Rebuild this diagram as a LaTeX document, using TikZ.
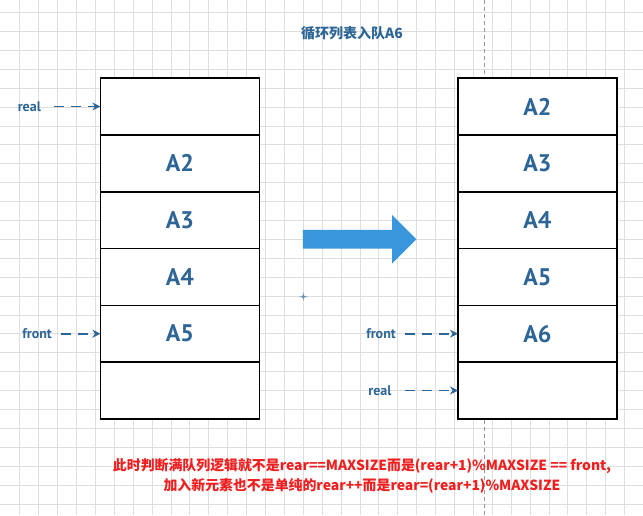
\documentclass[tikz,border=0pt]{standalone}
\usepackage{fontspec}
\setmainfont{PT Sans}
\newfontfamily\cjk{Noto Sans CJK SC}
\usepackage{tikz}
\usetikzlibrary{arrows.meta,positioning,shapes.arrows}
\definecolor{qblue}{RGB}{44,101,150}
\definecolor{shiftblue}{RGB}{55,150,220}
\definecolor{noteRed}{RGB}{240,30,30}
\tikzset{
  >=Stealth,
  every node/.append style={font=\small},
}
\tikzset{
  gridline/.style={draw=black!13, line width=0.8pt},
  guide/.style={draw=black!40, line width=0.7pt, dash pattern=on 4pt off 3pt}
}

\begin{document}
\begin{tikzpicture}[
  x=1pt, y=-1pt,
  cell/.style    ={draw, line width=1.6pt, fill=white, minimum width=159pt,
                   minimum height=56.8pt, inner sep=0pt, outer sep=0pt,
                   text=qblue, font=\bfseries\fontsize{24}{28}\selectfont},
  ptrlbl/.style  ={text=qblue, font=\bfseries\fontsize{14}{17}\selectfont},
  ptr/.style     ={draw=qblue, line width=1.8pt, dash pattern=on 10pt off 7pt,
                   -{Stealth[length=8pt,width=8pt]}},
  bigarrow/.style={single arrow, fill=shiftblue, draw=none, minimum height=113.4pt,
                   inner xsep=0pt, inner ysep=9.15pt, single arrow head extend=15pt,
                   single arrow head indent=0pt},
  heading/.style ={text=qblue, font=\cjk\bfseries\fontsize{14}{17}\selectfont},
  note/.style    ={text=noteRed, align=center,
                   font=\cjk\bfseries\fontsize{13.9}{20}\selectfont}
]

% canvas with editor grid
\useasboundingbox (0,0) rectangle (643,515);
\fill[white] (0,0) rectangle (643,515);
\foreach \i in {0,...,33}{
  \draw[gridline] ({19.7+18.9*\i},0) -- ++(0,515);
}
\foreach \j in {0,...,26}{
  \draw[gridline] (0,{12.5+18.9*\j}) -- ++(643,0);
}
\draw[guide] (484.8,0) -- (484.8,515);

% Title
\node[heading] (ttl) at (352,33.5) {循环列表入队A6};

% Left queue (before)
\node[cell] (l1) at (179.9,106.5) {};
\node[cell, below=0pt of l1] (l2) {A2};
\node[cell, below=0pt of l2] (l3) {A3};
\node[cell, below=0pt of l3] (l4) {A4};
\node[cell, below=0pt of l4] (l5) {A5};
\node[cell, below=0pt of l5] (l6) {};

% Right queue (after)
\node[cell] (r1) at (537.5,106.5) {A2};
\node[cell, below=0pt of r1] (r2) {A3};
\node[cell, below=0pt of r2] (r3) {A4};
\node[cell, below=0pt of r3] (r4) {A5};
\node[cell, below=0pt of r4] (r5) {A6};
\node[cell, below=0pt of r5] (r6) {};

% Pointer labels
\node[ptrlbl, left=56pt of l1.west] (realL) {real};
\node[ptrlbl, left=45pt of l5.west] (frontL) {front};
\node[ptrlbl, left=58.7pt of r5.west] (frontR) {front};
\node[ptrlbl, left=63pt of r6.west] (realR) {real};

% Pointer arrows
\foreach \a/\b/\g in {realL/l1/10, frontL/l5/6, frontR/r5/6, realR/r6/10}{
  \draw[ptr, shorten <={\g pt}] (\a.east) -- (\b.west);
}

% Enqueue arrow between the two states
\node[bigarrow] (shift) at (355,239.3) {};

% small crosshair marker
\draw[qblue!70, line width=0.6pt] (303.3,296.7) circle (1.6pt)
  (299.3,296.7) -- (307.3,296.7) (303.3,292.7) -- (303.3,300.7);

% Explanation
\node[note] (rule) at (362,475.7)
  {此时判断满队列逻辑就不是rear==MAXSIZE而是(rear+1)\%MAXSIZE == front,\\
   加入新元素也不是单纯的rear++而是rear=(rear+1)\%MAXSIZE};

\end{tikzpicture}
\end{document}
